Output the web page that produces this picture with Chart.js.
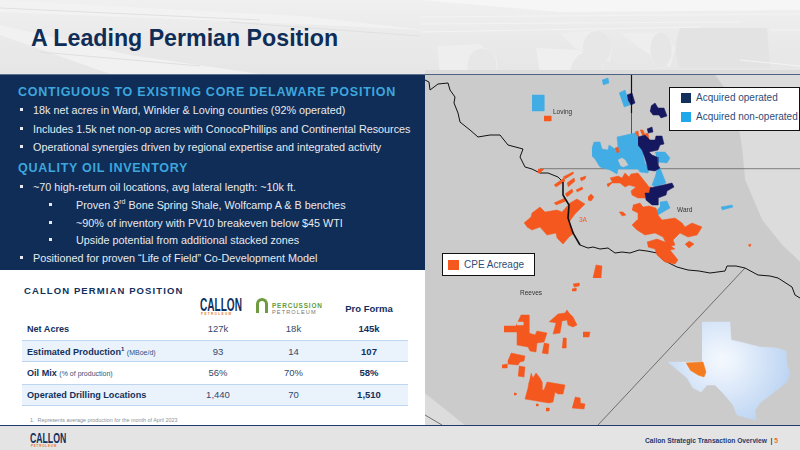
<!DOCTYPE html>
<html>
<head>
<meta charset="utf-8">
<title>A Leading Permian Position</title>
<script src="https://cdn.jsdelivr.net/npm/chart.js@4"></script>
<style>
html, body { margin: 0; padding: 0; }
body { width: 800px; height: 450px; overflow: hidden; position: relative; background: #fff; font-family: "Liberation Sans", Arial, sans-serif; color: #12305c; }
.abs { position: absolute; white-space: nowrap; }
#head { left: 0; top: 0; width: 800px; height: 74px; }
#title { left: 31px; top: 24px; font-size: 23.2px; font-weight: bold; color: #0f2d57; line-height: 28px; }
#panel { left: 0; top: 74px; width: 425px; height: 196px; background: #0f2d57; border-top: 1px solid #5c6f8c; box-sizing: border-box; }
.hd { left: 18px; font-size: 12.5px; font-weight: bold; color: #3ea6dd; letter-spacing: .75px; line-height: 14px; }
.li { font-size: 10.8px; color: #e8eaee; line-height: 14px; }
.li sup { font-size: 7px; line-height: 0; }
.bu { width: 3px; height: 3px; background: #e8eaee; }
#map { left: 425px; top: 70px; width: 375px; height: 355px; background: #dcdcdc; }
#topline { left: 425px; top: 74px; width: 375px; height: 1px; background: #4f6484; }
.lg { background: #fff; border: 1.5px solid #111; box-sizing: border-box; }
.sw { width: 10px; height: 10px; }
.lt { font-size: 10px; color: #2f4d78; line-height: 12px; }
.pl { font-size: 6.5px; color: #333; line-height: 8px; }
.rowb { left: 22px; width: 386px; height: 22px; background: #eaf2fb; border-top: 1px solid #bdd5f1; border-bottom: 1px solid #bdd5f1; box-sizing: border-box; }
.lab { left: 27px; font-size: 9.1px; font-weight: bold; color: #12305c; line-height: 12px; }
.lab small { font-weight: normal; font-size: 7px; color: #35507a; }
.lab sup { font-size: 6px; line-height: 0; }
.val { width: 70px; text-align: center; font-size: 9.5px; color: #33496d; line-height: 12px; }
.val.b { font-weight: bold; color: #12305c; }
#foot { left: 0; top: 425px; width: 800px; height: 25px; background: #e4e4e4; border-top: 1.5px solid #1f3a6b; box-sizing: border-box; }
</style>
</head>
<body>
<svg class="abs" id="head" viewBox="0 0 800 74">
	<defs>
		<linearGradient id="sky" x1="0" y1="0" x2="0" y2="1">
			<stop offset="0" stop-color="#f0f0f0"/><stop offset=".5" stop-color="#eaeaea"/><stop offset="1" stop-color="#e6e6e6"/>
		</linearGradient>
	</defs>
	<rect width="800" height="74" fill="url(#sky)"/>
	<path d="M420 0H800V10L560 12Z" fill="#f6f6f6"/>
	<path d="M0 25L130 55L260 74H110L0 35Z" fill="#f1f1f1"/>
	<path d="M0 0L300 16L425 30L300 24L0 12Z" fill="#f2f2f2"/>
	<path d="M680 28H767L770 68H680Q672 50 680 28Z" fill="#e3e3e3"/>
	<path d="M437 46L480 44L497 60L497 74H440Z" fill="#eeeeee"/>
	<path d="M536 48L580 50L600 68L600 74H540Z" fill="#efefef"/>
	<path d="M560 33L598 30L612 48L610 62L575 48Z" fill="#eeeeee"/>
	<path d="M620 33L665 32L675 48L670 68L640 48Z" fill="#eeeeee"/>
	<ellipse cx="482" cy="66" rx="15" ry="18" fill="#e7e7e7" stroke="#f1f1f1" stroke-width=".6"/>
	<ellipse cx="587" cy="74" rx="17" ry="22" fill="#e7e7e7" stroke="#f1f1f1" stroke-width=".6"/>
	<ellipse cx="597" cy="48" rx="14" ry="17" fill="#e7e7e7"/>
	<ellipse cx="661" cy="50" rx="11" ry="18" fill="#e6e6e6" stroke="#efefef" stroke-width=".6"/>
	<path d="M420 17L800 14M420 24L740 22M420 32L700 27M770 30L800 30M740 60L800 66" stroke="#f3f3f3" stroke-width="1" fill="none"/>
	<path d="M0 8L260 20M40 52L200 66M230 22L420 36" stroke="#e0e0e0" stroke-width="1" fill="none"/>
</svg>
<div class="abs" id="title">A Leading Permian Position</div>
<div class="abs" id="panel"></div>
<div class="abs" id="map"><canvas id="acreage" width="375" height="355"></canvas></div>
<div class="abs" id="topline"></div>
<div id="slide"></div>
<div class="abs" id="foot"></div>
<div class="abs" style="left:30px;top:431px;font:bold 14px/14px 'Liberation Sans';color:#12305c;transform:scaleX(.62);transform-origin:left">CALLON</div>
<div class="abs" style="left:31px;top:444px;font:bold 3px/4px 'Liberation Sans';color:#e8762c;letter-spacing:.8px">PETROLEUM</div>
<div class="abs" style="left:645px;top:436px;font:bold 6.7px/9px 'Liberation Sans';color:#1f3a6b">Callon Strategic Transaction Overview &nbsp;|&nbsp;<span style="color:#ef6a32">5</span></div>
<script>
// slide text
const bullets = [
	['18k net acres in Ward, Winkler & Loving counties (92% operated)', 110, 0],
	['Includes 1.5k net non-op acres with ConocoPhillips and Continental Resources', 129, 0],
	['Operational synergies driven by regional expertise and integrated activity', 147, 0],
	['~70 high-return oil locations, avg lateral length: ~10k ft.', 187, 0],
	['Proven 3<sup>rd</sup> Bone Spring Shale, Wolfcamp A & B benches', 205, 1],
	['~90% of inventory with PV10 breakeven below $45 WTI', 223, 1],
	['Upside potential from additional stacked zones', 240, 1],
	['Positioned for proven “Life of Field” Co-Development Model', 258, 0],
]
const rowLabels = ['Net Acres', 'Estimated Production<sup>1</sup> <small>(MBoe/d)</small>', 'Oil Mix <small>(% of production)</small>', 'Operated Drilling Locations']
const callon = ['127k', '93', '56%', '1,440']
const percussion = ['18k', '14', '70%', '70']
const proForma = ['145k', '107', '58%', '1,510']

// map outlines, in map units
const basemap = [[0,5],[290,5],[310,33],[317,80],[320,110],[337,150],[357,175],[375,192],[375,355],[40,355],[0,323]]
const river = [[0,10],[4,12],[5,20],[13,14],[23,13],[25,20],[30,27],[29,33],[33,43],[35,52],[45,60],[53,67],[65,65],[75,65],[83,75],[98,79],[95,87],[100,97],[107,99],[115,103],[123,103],[133,107],[138,112]]
const riverBold = [[138,112],[138,125],[144,135],[143,148],[148,163],[155,175]]
const riverEast = [[155,175],[163,178],[168,177],[175,179],[183,178],[190,183],[197,182],[205,183],[214,180],[222,181],[232,183],[238,190],[252,197],[263,200],[274,201],[285,203],[300,201],[302,196],[311,196],[320,198],[333,205],[345,206],[353,208],[367,217],[370,225],[375,228]]
const countyH = [[115,98.7],[375,98.7]]
const countyV = [[206.5,43],[206.5,98.7]]
const countyVBold = [[206.5,5],[206.5,43]]
const countyDiag = [[320,198],[173,355]]
const countyLow = [[0,345],[17,355]]

const nonOperated = [
	[[107,25],[119,25],[119,41],[107,41]],
	[[177,10],[183,8],[184,13],[178,15]],
	[[194,23],[200,20],[205,35],[199,37]],
	[[167,78],[169,72],[175,72],[177,79],[183,80],[184,75],[190,79],[193,78],[192,67],[210,63],[213,65],[217,80],[220,93],[224,99],[223,103],[215,102],[213,99],[193,99],[192,104],[185,100],[175,97],[170,89],[167,86]],
	[[230,82],[240,82],[245,88],[242,93],[233,92]],
	[[232,98],[235,98],[241,113],[230,117],[227,115],[230,107]],
	[[235,132],[242,131],[245,138],[238,142],[233,145],[230,142],[235,137]],
	[[232,153],[236,155],[232,160],[228,158]],
	[[296,137],[307,135],[308,137],[297,140]],
]
const operated = [
	[[202,25],[207,23],[210,33],[206,35],[203,30]],
	[[226,36],[230,33],[233,38],[239,38],[242,46],[236,48],[234,45],[228,45],[225,41]],
	[[222,59],[227,57],[228,62],[223,63]],
	[[213,67],[220,65],[225,70],[230,70],[231,66],[237,66],[239,74],[235,75],[233,80],[224,82],[227,85],[232,87],[233,95],[235,98],[230,101],[223,100],[222,95],[220,88],[217,80],[213,75]],
	[[225,118],[247,113],[249,117],[242,121],[241,125],[233,128],[233,135],[227,135],[221,130],[220,123],[224,123]],
]
const cpeAcres = [
	[[119,46],[126,46],[126,51],[119,51]],
	[[210,62],[213,61],[214,67],[212,66]],
	[[215,60],[218,60],[220,65],[217,65]],
	[[220,64],[223,63],[224,69],[222,69]],
	[[190,78],[193,77],[194,82],[192,83]],
	[[113,99],[119,99],[115,103],[113,103]],
	[[129,115],[139,108],[140,111],[131,117]],
	[[138,107],[148,102],[148,104],[140,109]],
	[[142,113],[149,108],[150,111],[143,117]],
	[[155,108],[161,106],[160,109],[156,111]],
	[[151,120],[157,117],[158,119],[152,122]],
	[[140,124],[147,119],[148,122],[142,127]],
	[[163,127],[166,124],[169,127],[166,131],[163,130]],
	[[129,133],[140,128],[141,131],[131,135]],
	[[99,153],[106,147],[107,143],[115,137],[120,142],[132,140],[137,142],[145,133],[152,129],[160,134],[154,140],[150,144],[144,152],[149,163],[144,167],[138,174],[132,168],[131,163],[122,165],[115,157],[107,160],[102,157]],
	[[185,108],[193,106],[197,108],[200,103],[204,107],[206,104],[213,103],[217,108],[221,113],[224,117],[227,117],[224,123],[220,124],[220,128],[213,128],[207,125],[206,121],[211,117],[204,115],[200,117],[195,113],[187,113],[183,117],[182,114],[187,112]],
	[[208,135],[215,133],[218,137],[224,136],[231,138],[233,145],[237,150],[250,148],[257,153],[260,157],[267,153],[277,157],[272,165],[263,167],[255,163],[248,170],[250,175],[243,177],[238,167],[230,163],[220,165],[212,160],[207,155],[212,150],[213,143],[207,140]],
	[[222,172],[232,169],[240,172],[250,179],[245,180],[253,190],[250,194],[240,192],[232,185],[230,179],[223,177]],
	[[264,171],[269,174],[264,178],[260,174]],
	[[194,142],[198,142],[201,145],[197,146]],
	[[323,175],[326,174],[325,177]],
	[[168,208],[171,195],[177,196],[176,208]],
	[[148,214],[154,213],[154,216],[149,217]],
	[[147,219],[151,218],[151,221],[147,221]],
	[[79,256],[91,256],[96,245],[104,245],[104,263],[110,265],[112,261],[122,263],[119,272],[112,273],[111,282],[105,281],[103,277],[92,275],[92,262],[79,262]],
	[[124,252],[133,244],[140,243],[142,240],[144,243],[148,247],[152,255],[148,257],[143,255],[142,250],[137,251],[135,263],[128,264],[131,253]],
	[[158,262],[165,262],[164,267],[158,267]],
	[[138,268],[141,268],[141,278],[137,278]],
	[[119,273],[124,274],[123,284],[117,283]],
	[[86,283],[100,286],[99,291],[95,292],[93,295],[83,294],[83,290]],
	[[77,295],[82,294],[82,298],[77,298]],
	[[94,296],[100,297],[99,307],[93,306]],
	[[106,303],[108,308],[111,303],[115,308],[117,312],[117,320],[119,320],[122,312],[140,315],[138,324],[133,324],[130,322],[128,332],[124,333],[100,329],[103,318],[104,312]],
	[[150,327],[155,328],[155,333],[160,334],[159,339],[147,338]],
	[[89,323],[91,323],[91,325],[89,325]],
	[[111,334],[113,334],[113,336],[111,336]],
	[[121,338],[124,338],[124,341],[121,341]],
]
const baseGaps = [
	[[193,90],[197,88],[200,90],[203,95],[198,97],[195,95]],
	[[92,252],[98,252],[98,255],[92,255]],
]
const texas = [[277,252],[305,252],[306,270],[315,272],[335,277],[352,278],[361,281],[362,295],[365,303],[362,312],[348,323],[335,333],[330,340],[331,350],[322,348],[312,345],[308,335],[298,323],[290,315],[282,315],[276,322],[268,318],[262,308],[243,292],[277,292]]
const texasPermian = [[261,293],[278,292],[281,302],[279,307],[273,305],[265,300]]

const canvas = document.getElementById('acreage')
const ctx = canvas.getContext('2d')
const texasFill = ctx.createRadialGradient(297, 290, 5, 297, 290, 70)
texasFill.addColorStop(0, '#f2f7fe')
texasFill.addColorStop(1, '#bcd4f2')

const area = (points, color) => ({
	data: points.map(p => ({ x: p[0], y: p[1] })),
	showLine: true,
	fill: 'shape',
	backgroundColor: color,
	borderColor: color,
	borderWidth: 0.5,
	pointRadius: 0,
})
const line = (points, color, width) => ({
	data: points.map(p => ({ x: p[0], y: p[1] })),
	showLine: true,
	fill: false,
	borderColor: color,
	borderWidth: width,
	pointRadius: 0,
})

new Chart(canvas, {
	type: 'scatter',
	data: {
		datasets: [
			// chart.js paints the first dataset on top, so this runs top layer first
			line(countyVBold, '#111', 1.2),
			...baseGaps.map(p => area(p, '#cbcbcb')),
			area(texasPermian, '#f47b20'),
			area(texas, texasFill),
			line(riverBold, '#111', 1.6),
			...operated.map(p => area(p, '#15185e')),
			...cpeAcres.map(p => area(p, '#f4581f')),
			...nonOperated.map(p => area(p, '#42ace4')),
			line(river, '#111', 1),
			line(riverEast, '#111', 1),
			line(countyH, '#666', 0.8),
			line(countyV, '#555', 0.8),
			line(countyDiag, '#555', 0.8),
			line(countyLow, '#555', 0.8),
			area(basemap, '#cbcbcb'),
		],
	},
	options: {
		responsive: false,
		animation: false,
		events: [],
		layout: { padding: 0 },
		plugins: { legend: { display: false }, tooltip: { enabled: false } },
		scales: {
			x: { type: 'linear', display: false, min: 0, max: 375 },
			y: { type: 'linear', display: false, min: 0, max: 355, reverse: true },
		},
	},
})

// everything else on the slide is real text placed over the chart
const slide = document.getElementById('slide')
const add = (cls, style, html) => {
	const el = document.createElement('div')
	el.className = 'abs ' + cls
	el.style.cssText = style
	el.innerHTML = html
	slide.appendChild(el)
}

add('hd', 'top:85px', 'CONTIGUOUS TO EXISTING CORE DELAWARE POSITION')
add('hd', 'top:161px', 'QUALITY OIL INVENTORY')
bullets.forEach(([text, y, level]) => {
	add('bu', `left:${level ? 49 : 20}px;top:${y - 2}px`, '')
	add('li', `left:${level ? 76 : 33}px;top:${y - 7}px`, text.replace(/&/g, '&amp;'))
})

add('', 'left:24px;top:285px;font:bold 9.5px/11px "Liberation Sans";letter-spacing:1.1px;color:#12305c', 'CALLON PERMIAN POSITION')
add('', 'left:200px;top:298px;font:bold 18px/15px "Liberation Sans";color:#12305c;transform:scaleX(.56);transform-origin:left', 'CALLON')
add('', 'left:201px;top:312px;font:bold 3px/4px "Liberation Sans";letter-spacing:1.4px;color:#e8762c', 'PETROLEUM')
add('', 'left:256px;top:298px;width:12px;height:15px;box-sizing:border-box;border:3px solid #6d9b3e;border-bottom:0;border-radius:6px 6px 0 0', '')
add('', 'left:272px;top:302px;font:bold 6.4px/7px "Liberation Sans";letter-spacing:.85px;color:#5f9a3c', 'PERCUSSION')
add('', 'left:272px;top:309px;font:5.6px/7px "Liberation Sans";letter-spacing:1.1px;color:#777', 'PETROLEUM')
add('', 'left:334px;top:303px;width:70px;text-align:center;font:bold 9.5px/12px "Liberation Sans";color:#12305c', 'Pro Forma')
add('rowb', 'top:340px', '')
add('rowb', 'top:384px', '')
const rowY = [329, 352, 373, 395]
rowLabels.forEach((label, i) => {
	const top = `top:${rowY[i] - 6}px`
	add('lab', top, label)
	add('val', `left:183px;${top}`, callon[i])
	add('val', `left:258.5px;${top}`, percussion[i])
	add('val b', `left:334px;${top}`, proForma[i])
})
add('', 'left:30px;top:417px;font:5.4px/7px "Liberation Sans";color:#8a8f98', '1.&nbsp; Represents average production for the month of April 2023')

add('lg', 'left:669px;top:87px;width:131px;height:44px', '')
add('sw', 'left:681px;top:93px;background:#12305c', '')
add('lt', 'left:696px;top:92px', 'Acquired operated')
add('sw', 'left:681px;top:112px;background:#1fa9ec', '')
add('lt', 'left:696px;top:111px', 'Acquired non-operated')
add('lg', 'left:442px;top:253px;width:93px;height:23px', '')
add('sw', 'left:448px;top:260px;width:11px;background:#f4581f', '')
add('lt', 'left:464px;top:259px', 'CPE Acreage')
add('pl', 'left:553px;top:108px', 'Loving')
add('pl', 'left:677px;top:206px', 'Ward')
add('pl', 'left:520px;top:289px', 'Reeves')
add('pl', 'left:579px;top:216px;color:#f4581f', '3A')
</script>
</body>
</html>
